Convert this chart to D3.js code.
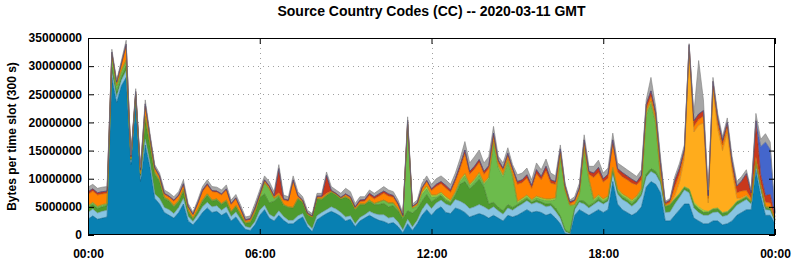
<!DOCTYPE html>
<html>
<head>
<meta charset="utf-8">
<script src="https://cdn.jsdelivr.net/npm/d3@7"></script>
<style>
  body { margin: 0; background: #fff; }
  text { font-family: "Liberation Sans", Arial, Helvetica, sans-serif; font-weight: bold; fill: #000; }
</style>
</head>
<body>
<div id="chart"></div>
<script>
// ---------------------------------------------------------
// data: one value per 10 minute step, in millions of bytes
// ---------------------------------------------------------
const slotMinutes = d3.range(0, 1441, 10);
const xTickLabels = ["00:00", "06:00", "12:00", "18:00", "00:00"];
const yTicks = [0, 5000000, 10000000, 15000000, 20000000, 25000000, 30000000, 35000000];

const seriesNames = ["blue", "ltblue", "dkgreen", "green", "lime", "yellow", "orange", "red", "royal", "gray"];
const seriesColors = ["#0880b2", "#88c4e2", "#4e9a2e", "#6cbb4c", "#a8dc3c", "#ffac1c", "#ff8200", "#c8381c", "#4466cc", "#a6a6a6"];

const blue = [
  2.8,3.4,2.8,3.0,3.2,28,23.5,26.5,28,12.5,23.5,9.5,
  16,12,6.5,5.5,4.0,3.5,3.0,4.0,5.5,2.5,1.8,2.8,
  4.0,4.8,4.0,4.2,3.5,4.0,2.5,3.2,2.0,1.0,0.8,1.8,
  3.5,4.5,3.0,2.5,3.5,2.6,2.0,2.0,2.7,3.2,1.5,0.6,
  2.7,3.3,3.8,4.2,3.8,3.3,2.5,2.8,1.5,2.5,3.0,3.5,
  3.0,2.6,2.4,2.0,2.2,1.5,0.4,2.0,0.8,2.0,3.5,4.5,
  3.5,4.5,5.0,4.0,3.8,4.8,4.5,4.0,3.2,3.5,3.8,3.5,
  3.0,3.5,3.0,2.5,3.5,3.2,3.5,4.0,4.5,4.0,4.2,4.0,
  3.5,3.8,3.0,2.0,0.3,0.1,3.5,4.5,4.0,3.5,4.0,4.5,
  4.0,4.5,9.5,5.5,4.5,4.0,3.5,4.0,5.0,8.5,9.5,9.0,
  7.5,2.5,2.5,3.5,4.5,5.5,5.5,3.0,2.5,2.0,2.0,2.5,
  2.5,1.8,2.0,2.5,3.5,4.0,4.5,4.5,11.5,7.0,3.5,3.5,
  2.0];
const ltblue = [
  1.2,1.2,1.1,1.2,1.2,1.0,1.0,1.0,1.2,0.5,0.6,0.5,
  1.0,0.8,0.8,1.0,0.9,1.0,0.8,0.9,1.0,0.8,0.6,0.8,
  1.0,1.0,1.0,1.0,0.9,1.0,0.8,0.9,0.8,0.5,0.5,0.6,
  0.9,0.8,0.7,0.7,0.8,0.7,0.6,0.6,0.7,0.6,0.5,0.5,
  0.7,0.7,0.7,0.8,0.8,0.7,0.7,0.6,0.5,0.6,0.6,0.7,
  0.8,1.0,1.2,1.0,1.0,0.8,0.5,0.8,0.6,0.6,1.0,1.2,
  1.2,1.2,1.2,1.5,1.4,1.5,1.5,1.5,1.5,1.5,1.6,1.5,
  1.5,1.5,1.3,1.2,1.3,1.2,1.5,1.5,1.6,1.5,1.6,1.5,
  1.5,1.4,1.2,1.0,0.3,0.1,1.0,1.3,1.5,1.3,1.4,1.5,
  1.5,1.5,1.6,1.8,1.8,1.8,1.6,1.8,2.0,1.8,1.8,1.8,
  1.8,1.5,1.6,2.0,2.2,2.5,2.0,1.8,1.5,1.5,1.5,1.5,
  1.6,1.5,1.5,1.8,1.8,1.8,1.8,1.0,1.0,1.2,1.0,0.9,
  0.4];
const dkgreen = [
  0.8,0.8,0.8,0.8,0.8,0.8,0.8,0.6,0.8,0.3,0.5,0.6,
  3.5,3.0,3.5,3.0,1.6,1.5,1.2,1.0,1.3,0.9,0.5,0.7,
  1.0,1.2,1.0,1.0,1.0,1.0,0.8,1.0,0.8,0.6,0.9,1.5,
  2.2,2.0,2.0,2.8,2.5,2.0,2.3,2.2,3.0,2.0,1.6,2.0,
  3.0,2.3,2.5,2.6,2.5,2.4,3.5,2.8,2.5,2.3,1.8,1.8,
  1.6,1.8,2.0,2.0,2.0,2.0,2.0,1.5,2.5,2.0,1.5,1.5,
  1.2,0.8,0.8,0.6,0.5,0.8,3.0,4.0,3.5,4.0,4.5,3.5,
  1.0,0.8,0.6,0.6,0.6,0.5,0.4,0.4,0.4,0.3,0.4,0.4,
  0.5,0.4,0.6,0.4,0.3,0.2,0.3,0.3,0.5,0.4,0.3,0.4,
  0.3,0.3,0.3,0.3,0.4,0.4,0.4,0.5,0.3,0.5,0.5,0.5,
  0.3,1.0,1.2,0.8,0.5,0.4,0.5,0.6,0.6,0.5,0.5,0.5,
  0.5,0.5,0.5,0.5,0.5,0.4,0.4,0.4,0.3,0.3,0.3,0.3,
  0.2];
const green = [
  0.3,0.3,0.3,0.3,0.3,2.0,1.2,1.0,1.0,0.3,0.4,0.3,
  0.5,0.4,0.3,0.2,0.2,0.2,0.2,0.2,0.3,0.2,0.1,0.2,
  0.2,0.3,0.2,0.2,0.2,0.2,0.1,0.1,0.1,0.1,0.2,0.2,
  0.2,2.0,2.5,0.5,0.3,0.1,0.1,0.1,0.1,0.1,0.1,0.1,
  0.1,0.1,0.1,0.1,0.1,0.1,0.1,0.1,0.1,0.1,0.1,0.2,
  0.2,0.5,0.6,0.7,0.5,0.3,0.3,15.2,0.8,0.5,1.2,1.0,
  0.8,0.3,0.3,0.3,0.2,0.3,0.5,1.0,0.5,0.6,0.8,0.5,
  4.5,10.5,7.0,6.0,7.5,5.5,0.3,0.3,0.3,0.3,0.4,0.4,
  0.6,0.5,1.5,10.5,7.0,4.8,0.5,1.0,9.0,4.5,0.4,0.4,
  0.3,0.3,0.3,0.3,0.3,0.3,0.4,0.3,0.6,10.5,11.5,8.5,
  0.4,0.1,0.1,0.1,0.1,0.1,0.1,0.1,0.1,0.1,0.1,0.1,
  0.1,0.1,0.1,0.1,0.1,0.1,0.1,0.1,0.2,0.2,0.2,0.2,
  0.1];
const lime = [
  0.1,0.1,0.1,0.1,0.1,0.1,0.1,0.1,0.1,0,0,0,
  0.1,0.1,0.1,0.1,0,0,0,0,0,0,0,0,
  0,0,0,0,0,0,0,0,0,0,0,0,
  0,0,0,0,0,0,0,0,0,0,0,0,
  0,0,0,0,0,0,0,0,0,0,0,0,
  0,0,0,0,0,0,0,0.2,0.1,0.2,0.4,0.5,
  0.4,0.3,0.3,0.4,0.3,0.3,0.3,0.4,0.3,0.3,0.4,0.3,
  0.3,0.4,0.4,0.4,0.5,0.3,0.3,0.3,0.3,0.2,0.3,0.3,
  0.3,0.3,0.3,0.3,0.1,0.1,0.1,0.2,0.4,0.3,0.3,0.3,
  0.3,0.3,0.3,0.3,0.3,0.3,0.3,0.3,0.3,0.5,0.5,0.4,
  0.2,0.1,0.1,0.1,0.1,0.1,0.1,0.3,0.3,0.3,0.1,0.1,
  0.1,0.1,0.1,0.1,0.1,0.1,0.1,0,0.1,0,0,0,
  0];
const yellow = [
  0,0,0,0,0,0,0,0,0,0,0,0,
  0,0,0,0,0,0,0,0,0,0,0,0,
  0,0,0,0,0,0,0,0,0,0,0,0,
  0,0,0,0,0,0,0,0,0,0,0,0,
  0,0,0,0,0,0,0,0,0,0,0,0,
  0,0,0,0,0,0,0,0,0,0,0,0,
  0,0,0,0,0,0,0,0,0,0,0,0,
  0,0,0,0,0,0,0,0,0,0,0,0,
  0,0,0,0,0,0,0,0,0,0,0,0,
  0,0,0,0,0,0,0,0,0,0,0,0,
  0,0,0,0.5,2.0,5.0,24.3,12.5,14.5,15.5,1.5,21.0,
  14.0,11.0,14.0,6.5,0.5,0.2,0.2,0,0,0,0,0,
  0];
const orange = [
  2.0,2.0,2.0,1.9,1.8,0.4,0.4,1.0,2.5,0.2,0.3,0.5,
  1.8,1.0,0.6,0.5,0.5,0.5,0.8,0.8,0.8,0.6,0.6,1.0,
  1.5,1.5,1.5,1.2,1.5,1.8,1.2,1.2,0.8,0.3,0.3,0.5,
  0.3,0.3,0.3,0.3,0.4,0.8,1.0,4.6,0.3,0.2,0.1,0.1,
  0.2,0.3,0.3,0.1,0.1,0.1,0.3,0.3,0.2,0.4,0.5,0.8,
  0.8,1.0,1.2,1.2,1.0,0.7,0.2,0.3,0.2,0.3,0.6,0.8,
  0.8,1.5,1.5,1.5,1.4,1.8,2.0,3.5,1.8,1.8,1.8,1.5,
  1.5,0.8,0.6,0.8,0.6,0.8,3.0,2.8,3.0,2.0,4.0,3.2,
  5.0,2.8,2.4,0.5,0.3,0.2,0.6,0.8,1.0,0.8,3.8,4.0,
  3.0,3.2,4.1,3.0,3.0,3.0,3.0,2.0,1.6,0.6,0.8,0.8,
  1.5,0.2,0.3,1.5,1.5,1.0,1.0,1.0,1.0,1.2,0.8,0.8,
  1.0,1.0,1.0,0.8,1.0,1.2,0.8,0.5,0.7,0.5,0.8,0.8,
  0.2];
const red = [
  0.5,0.4,0.4,0.4,0.4,0.2,0.2,0.3,0.3,0.1,0.2,0.2,
  0.4,0.2,0.2,0.2,0.2,0.2,0.2,0.2,0.2,0.1,0.1,0.2,
  0.3,0.3,0.2,0.2,0.2,0.2,0.2,0.2,0.2,0.2,0.2,0.2,
  0.2,0.2,0.2,0.2,4.3,0.2,0.2,0.3,0.2,0.1,0.1,0.1,
  0.2,0.2,3.2,0.1,0.1,0.1,0.2,0.2,0.2,0.3,0.3,0.4,
  0.4,0.4,0.4,0.4,0.3,0.3,0.1,0.4,0.1,0.1,0.2,0.2,
  0.3,0.4,0.4,0.5,0.4,0.5,0.6,0.7,0.5,0.5,0.5,0.5,
  0.5,0.6,0.4,0.4,0.5,0.4,0.5,0.5,0.6,0.5,0.7,0.6,
  0.8,0.6,0.5,0.6,0.5,0.4,0.2,0.3,0.5,0.5,0.8,0.9,
  0.6,0.7,0.8,0.6,0.8,0.7,0.7,0.5,0.8,0.8,1.0,0.8,
  1.2,0.3,0.4,1.2,1.0,0.6,0.3,1.0,1.0,1.0,0.5,0.8,
  1.0,0.8,0.8,0.8,1.2,1.8,3.0,1.0,6.5,1.5,1.2,1.5,
  0.3];
const royal = [
  0,0,0,0,0,0,0,0,0,0,0,0,
  0,0,0,0,0,0,0,0,0,0,0,0,
  0,0,0,0,0,0,0,0,0,0,0,0,
  0,0,0,0,0,0,0,0,0,0,0,0,
  0,0,0,0,0,0,0,0,0,0,0,0,
  0,0,0,0,0,0,0,0,0,0,0,0,
  0,0,0,0,0,0,0,0,0,0,0,0,
  0,0,0,0,0,0,0,0,0,0,0,0,
  0,0,0,0,0,0,0,0,0,0,0,0,
  0,0,0,0,0,0,0,0,0,0,0,0,
  0,0,0,0,0,0,0,0,0,0,0,0,
  0,0,0,0,0,0,0,0,0,5.0,9.5,8.0,
  0.6];
const gray = [
  0.8,0.8,0.8,0.8,0.8,0.5,0.3,0.5,0.7,0.3,0.5,0.4,
  0.7,0.5,0.5,0.5,0.6,0.6,0.6,0.6,0.7,0.5,0.4,0.5,
  0.6,0.7,0.7,0.7,0.7,0.7,0.6,0.6,0.6,0.5,0.5,0.8,
  0.7,0.7,0.8,0.7,0.7,0.7,0.6,0.7,0.7,0.6,0.5,0.4,
  0.5,0.5,0.6,0.7,0.6,0.7,1.0,0.9,0.6,0.6,0.5,0.6,
  0.6,0.7,0.8,0.7,0.7,0.6,0.4,0.6,0.4,0.5,0.8,0.8,
  0.8,1.0,1.0,1.0,1.0,1.0,1.2,1.5,1.5,1.7,1.7,1.5,
  1.6,1.2,0.7,0.9,1.0,0.6,1.2,1.2,1.2,1.0,1.2,1.2,
  1.3,1.2,1.0,0.7,0.4,0.3,0.6,0.8,0.9,0.9,1.2,1.3,
  1.0,1.1,1.2,1.0,1.1,1.1,1.1,1.0,1.0,0.8,2.4,1.0,
  1.0,0.3,0.3,0.7,0.9,0.8,0.2,1.3,9.5,1.9,1.0,0.7,
  0.8,0.7,0.8,0.9,0.8,0.8,0.7,0.5,1.3,1.3,1.5,1.3,
  0.2];

const seriesValues = [blue, ltblue, dkgreen, green, lime, yellow, orange, red, royal, gray];

// ---------------------------------------------------------
// layout
// ---------------------------------------------------------
const W = 795, H = 260;
const margin = { top: 38, right: 20, bottom: 25, left: 88 };
const plotW = W - margin.left - margin.right;   // 687
const plotH = H - margin.top - margin.bottom;   // 197

const svg = d3.select("#chart").append("svg")
    .attr("width", W)
    .attr("height", H);

const x = d3.scaleLinear().domain([0, 1440]).range([margin.left, margin.left + plotW]);
const y = d3.scaleLinear().domain([0, 35000000]).range([margin.top + plotH, margin.top]);

// rows for the stack
const rows = slotMinutes.map(function (m, i) {
    const row = { minute: m };
    seriesNames.forEach(function (k, j) { row[k] = seriesValues[j][i] * 1e6; });
    return row;
});
const stacked = d3.stack().keys(seriesNames)(rows);
const color = d3.scaleOrdinal().domain(seriesNames).range(seriesColors);

// grid (behind the data)
const grid = svg.append("g").attr("class", "grid");
grid.selectAll("line.gy")
    .data(yTicks.slice(1, -1))
    .enter().append("line")
    .attr("x1", margin.left).attr("x2", margin.left + plotW)
    .attr("y1", d => Math.round(y(d)) + 0.5).attr("y2", d => Math.round(y(d)) + 0.5)
    .attr("stroke", "#a0a0a0").attr("stroke-dasharray", "1,4");
grid.selectAll("line.gx")
    .data([360, 720, 1080])
    .enter().append("line")
    .attr("y1", margin.top).attr("y2", margin.top + plotH)
    .attr("x1", d => Math.round(x(d)) + 0.5).attr("x2", d => Math.round(x(d)) + 0.5)
    .attr("stroke", "#a0a0a0").attr("stroke-dasharray", "1,4");

// areas
const area = d3.area()
    .x(d => x(d.data.minute))
    .y0(d => y(d[0]))
    .y1(d => y(d[1]));

const topLine = d3.line()
    .x(d => x(d.data.minute))
    .y(d => y(d[1]));

svg.append("g").selectAll("path.layer")
    .data(stacked)
    .enter().append("path")
    .attr("class", "layer")
    .attr("d", area)
    .attr("fill", d => color(d.key));

svg.append("g").selectAll("path.edge")
    .data(stacked)
    .enter().append("path")
    .attr("class", "edge")
    .attr("d", topLine)
    .attr("fill", "none")
    .attr("stroke", d => d3.color(color(d.key)).darker(0.8))
    .attr("stroke-width", 0.6);

// axes
const fmt = d3.format("d");
const yAxis = svg.append("g")
    .attr("transform", `translate(${margin.left},0)`)
    .call(d3.axisLeft(y).tickValues(yTicks).tickFormat(fmt).tickSizeInner(-6).tickSizeOuter(0).tickPadding(6));
const yAxisR = svg.append("g")
    .attr("transform", `translate(${margin.left + plotW},0)`)
    .call(d3.axisRight(y).tickValues(yTicks).tickFormat("").tickSizeInner(-6).tickSizeOuter(0));
const xAxis = svg.append("g")
    .attr("transform", `translate(0,${margin.top + plotH})`)
    .call(d3.axisBottom(x).tickValues([0, 360, 720, 1080, 1440])
        .tickFormat((d, i) => xTickLabels[i]).tickSizeInner(-6).tickSizeOuter(0).tickPadding(14));
const xAxisT = svg.append("g")
    .attr("transform", `translate(0,${margin.top})`)
    .call(d3.axisTop(x).tickValues([0, 360, 720, 1080, 1440]).tickFormat("").tickSizeInner(-6).tickSizeOuter(0));

[yAxis, yAxisR, xAxis, xAxisT].forEach(function (g) {
    g.select(".domain").remove();
    g.selectAll("text").attr("font-size", 12).attr("font-weight", "bold")
        .attr("font-family", '"Liberation Sans", Arial, sans-serif');
    g.selectAll("line").attr("stroke", "#000");
});

// frame
svg.append("rect")
    .attr("x", margin.left + 0.5).attr("y", margin.top + 0.5)
    .attr("width", plotW - 1).attr("height", plotH - 1)
    .attr("fill", "none").attr("stroke", "#000");

// title + y label
svg.append("text")
    .attr("x", margin.left + plotW / 2).attr("y", 16)
    .attr("text-anchor", "middle")
    .attr("font-size", 14)
    .text("Source Country Codes (CC) -- 2020-03-11 GMT");

svg.append("text")
    .attr("transform", `translate(16,${margin.top + plotH / 2}) rotate(-90)`)
    .attr("text-anchor", "middle")
    .attr("font-size", 12)
    .text("Bytes per time slot (300 s)");
</script>
</body>
</html>
